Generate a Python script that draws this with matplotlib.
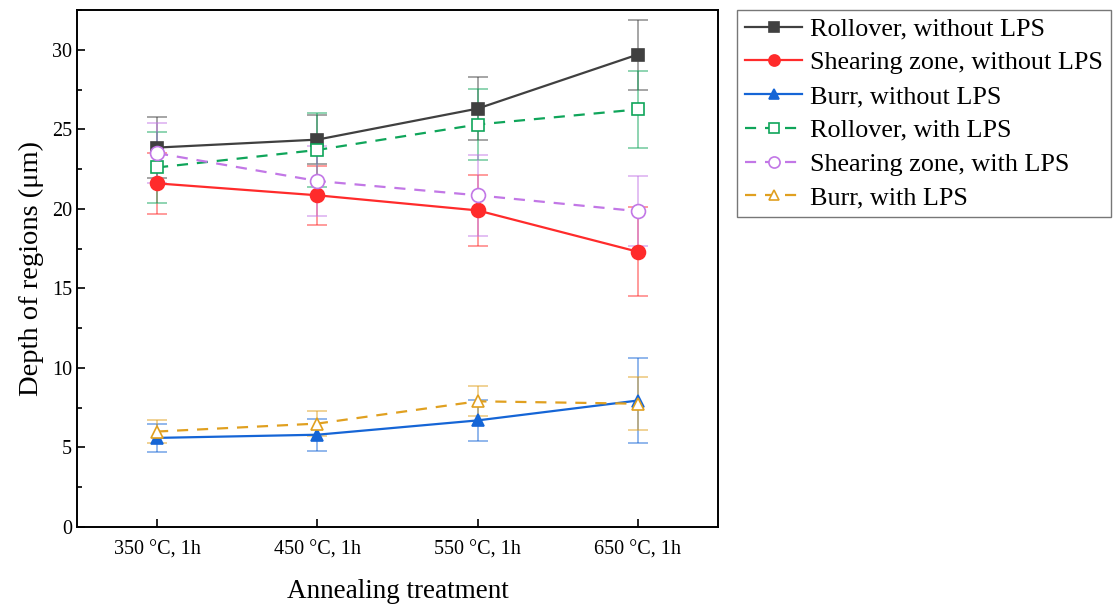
import matplotlib
matplotlib.use("Agg")
import matplotlib.pyplot as plt
import numpy as np
from matplotlib.ticker import MultipleLocator

plt.rcParams['font.family'] = ['Liberation Serif', 'DejaVu Serif']
plt.rcParams['mathtext.fontset'] = 'stix'

treatments = ['350 °C, 1h', '450 °C, 1h', '550 °C, 1h', '650 °C, 1h']

rollover_wo = [23.85, 24.35, 26.3, 29.7]
rollover_wo_err = [1.9, 1.55, 2.0, 2.2]
shear_wo = [21.6, 20.85, 19.9, 17.3]
shear_wo_err = [1.9, 1.85, 2.25, 2.8]
burr_wo = [5.6, 5.8, 6.7, 7.95]
burr_wo_err = [0.9, 1.0, 1.3, 2.7]

rollover_w = [22.6, 23.7, 25.3, 26.25]
rollover_w_err = [2.25, 2.3, 2.25, 2.4]
shear_w = [23.5, 21.75, 20.85, 19.85]
shear_w_err = [1.9, 2.2, 2.55, 2.2]
burr_w = [6.0, 6.5, 7.9, 7.75]
burr_w_err = [0.7, 0.8, 0.95, 1.65]

fig = plt.figure(figsize=(11.15, 6.04), dpi=100, facecolor='w')
ax = fig.add_axes([0.069, 0.1275, 0.575, 0.856])

x = np.arange(len(treatments))

series = [
    (rollover_wo, rollover_wo_err, 'Rollover, without LPS', '#404040', 's', '-', True),
    (shear_wo, shear_wo_err, 'Shearing zone, without LPS', '#ff2b2b', 'o', '-', True),
    (burr_wo, burr_wo_err, 'Burr, without LPS', '#1565d6', '^', '-', True),
    (rollover_w, rollover_w_err, 'Rollover, with LPS', '#0fa55a', 's', '--', False),
    (shear_w, shear_w_err, 'Shearing zone, with LPS', '#c277e6', 'o', '--', False),
    (burr_w, burr_w_err, 'Burr, with LPS', '#e0a020', '^', '--', False),
]

handles = []
for vals, errs, label, color, marker, ls, filled in series:
    ax.errorbar(x, vals, yerr=errs, fmt='none', ecolor=color, alpha=0.55,
                elinewidth=1.2, capsize=7, capthick=1.2, zorder=2)
    h, = ax.plot(x, vals, linestyle=ls, color=color, lw=1.6, marker=marker,
                 markersize=9 if marker != 'o' else 10,
                 markerfacecolor=color if filled else 'white',
                 markeredgecolor=color, markeredgewidth=1.2,
                 label=label, zorder=3,
                 dashes=(5, 4) if ls == '--' else (None, None))
    handles.append(h)

ax.set_xlim(-0.5, 3.5)
ax.set_ylim(0, 32.5)
ax.set_xticks(x)
ax.set_xticklabels(treatments)
ax.yaxis.set_major_locator(MultipleLocator(5))
ax.yaxis.set_minor_locator(MultipleLocator(2.5))
ax.tick_params(axis='both', direction='in', labelsize=14.5, length=6, width=1.2)
ax.tick_params(axis='y', which='minor', direction='in', length=3.5, width=1.2)
ax.tick_params(axis='x', pad=10)
for sp in ax.spines.values():
    sp.set_linewidth(1.4)

ax.set_xlabel('Annealing treatment', fontsize=19.5, labelpad=14)
ax.set_ylabel('Depth of regions (μm)', fontsize=20.5, labelpad=6)

fig.legend(handles=handles, loc='upper left',
           bbox_to_anchor=(0.661, 0.984), fontsize=18.8,
           frameon=True, fancybox=False, edgecolor='#555555',
           handlelength=2.2, handletextpad=0.3, borderpad=0.3,
           labelspacing=0.4, borderaxespad=0, markerscale=0.8)

plt.savefig('out.png', dpi=100)
